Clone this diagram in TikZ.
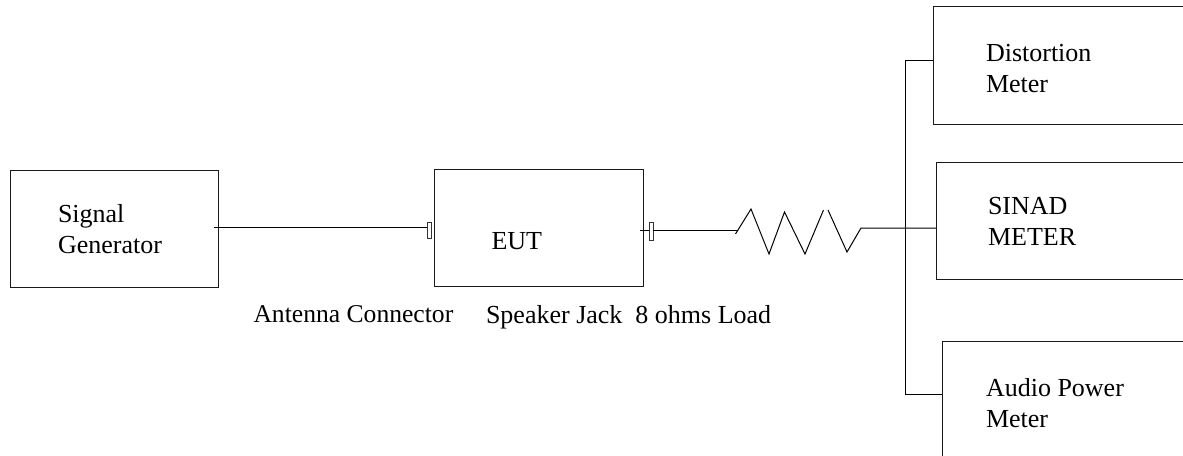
\documentclass[tikz,border=0pt]{standalone}
\usepackage{fontspec}
\setmainfont{Liberation Serif}
\tikzset{
  boxn/.style={draw=black!90,line width=1.3pt,rectangle,inner sep=0pt,anchor=north west,fill=none},
  lab/.style={inner sep=0pt,outer sep=0pt,anchor=north west,align=left,font=\fontsize{26}{31}\selectfont,text=black},
  wire/.style={draw=black,line width=1pt,line join=miter},
  jack/.style={draw=black!80,line width=0.9pt,rectangle,inner sep=0pt,anchor=north west,fill=white}
}
\begin{document}
\begin{tikzpicture}[x=1pt,y=-1pt]
\useasboundingbox (0,0) rectangle (1183,455);
\node[boxn,minimum width=208pt,minimum height=117pt] (gen) at (10,170) {};
\node[boxn,minimum width=209pt,minimum height=117pt] (eut) at (434,169) {};
\node[boxn,minimum width=270pt,minimum height=118pt] (dist) at (933,6) {};
\node[boxn,minimum width=270pt,minimum height=117pt] (sinad) at (936,162) {};
\node[boxn,minimum width=270pt,minimum height=130pt] (audio) at (942,341) {};
\node[jack,minimum width=3.5pt,minimum height=16pt] (jackA) at (427,222) {};
\node[jack,minimum width=3.5pt,minimum height=18pt] (jackB) at (649,222) {};
\node[lab] (tgen) at (58,204.2) {Signal\\Generator};
\node[lab] (teut) at (491.5,232) {EUT};
\node[lab] (tdist) at (986,44.2) {Distortion\\Meter};
\node[lab] (tsinad) at (988,197.5) {SINAD\\METER};
\node[lab] (taudio) at (986,378.2) {Audio Power\\Meter};
\node[lab,font=\fontsize{25.6}{31}\selectfont] (tant) at (253.5,305.5) {Antenna Connector};
\node[lab] (tspk) at (486,305.2) {Speaker Jack\ \ 8 ohms Load};
\coordinate (gout) at (214,227);
\coordinate (eout) at (640,230);
\coordinate (r0) at (737,230);
\coordinate (r1) at (735.5,234);
\coordinate (r2) at (751,209);
\coordinate (r3) at (769,254);
\coordinate (r4) at (784.5,212);
\coordinate (r5) at (805,254);
\coordinate (r6) at (823.5,210);
\coordinate (r7) at (828,210);
\coordinate (r8) at (847,252);
\coordinate (r9) at (861,228);
\coordinate (b1) at (905,60);
\coordinate (b2) at (905,394);
\draw[wire] (gout) -- (gout -| jackA.west);
\draw[wire] (eout) -- (eout -| jackB.west) (eout -| jackB.east) -- (r0);
\draw[wire] (r1) -- (r2) -- (r3) -- (r4) -- (r5) -- (r6);
\draw[wire] (r7) -- (r8) -- (r9) -- (r9 -| sinad.west);
\draw[wire] (b1 -| dist.west) -- (b1) -- (b2) -- (b2 -| audio.west);
\end{tikzpicture}
\end{document}
